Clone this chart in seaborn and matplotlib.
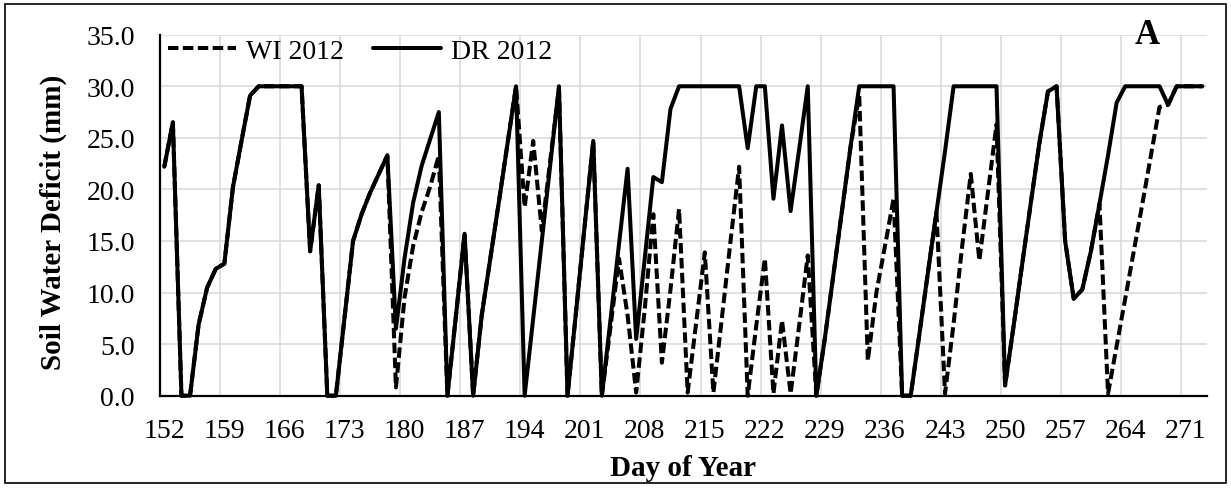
import numpy as np
import pandas as pd
import seaborn as sns
import matplotlib
matplotlib.use("Agg")
import matplotlib.pyplot as plt
from matplotlib.patches import Rectangle

# ---------------- data ----------------
days = list(range(152, 274))

dr_2012 = [
    22.2, 26.5, 0.0, 0.0, 6.9, 10.5, 12.3, 12.8, 20.2, 24.7,   # 152-161
    29.1, 30.0, 30.0, 30.0, 30.0, 30.0, 30.0, 14.0, 20.4, 0.0,  # 162-171
    0.0, 7.5, 15.0, 17.6, 19.7, 21.5, 23.3, 6.5, 13.3, 18.7,    # 172-181
    22.3, 24.9, 27.5, 0.0, 7.8, 15.7, 0.0, 7.8, 13.3, 18.8,     # 182-191
    24.4, 30.0, 0.0, 7.5, 15.0, 22.5, 30.0, 0.0, 8.2, 16.5,     # 192-201
    24.7, 0.0, 7.3, 14.7, 22.0, 5.5, 13.3, 21.2, 20.7, 27.8,    # 202-211
    30.0, 30.0, 30.0, 30.0, 30.0, 30.0, 30.0, 30.0, 24.0, 30.0, # 212-221
    30.0, 19.1, 26.2, 17.9, 23.9, 30.0, 0.0, 5.6, 11.8, 18.0,   # 222-231
    24.2, 30.0, 30.0, 30.0, 30.0, 30.0, 0.0, 0.0, 5.9, 11.9,    # 232-241
    17.8, 23.7, 30.0, 30.0, 30.0, 30.0, 30.0, 30.0, 1.0, 6.8,   # 242-251
    12.8, 18.7, 24.5, 29.5, 30.0, 15.0, 9.4, 10.3, 14.0, 18.6,  # 252-261
    23.3, 28.4, 30.0, 30.0, 30.0, 30.0, 30.0, 28.2, 30.0, 30.0, # 262-271
    30.0, 30.0,                                                 # 272-273
]

wi_2012 = [
    22.2, 26.5, 0.0, 0.0, 6.9, 10.5, 12.3, 12.8, 20.2, 24.7,   # 152-161
    29.1, 30.0, 30.0, 30.0, 30.0, 30.0, 30.0, 14.0, 20.4, 0.0,  # 162-171
    0.0, 7.5, 15.0, 17.6, 19.7, 21.5, 23.3, 0.8, 9.5, 14.5,     # 172-181
    17.8, 20.3, 23.3, 0.0, 7.8, 15.7, 0.0, 7.8, 13.3, 18.8,     # 182-191
    24.4, 30.0, 18.3, 24.7, 16.0, 22.9, 29.8, 0.0, 8.2, 16.5,   # 192-201
    24.7, 0.0, 6.6, 13.3, 7.8, 0.3, 8.4, 17.6, 3.2, 10.3,       # 202-211
    18.1, 0.3, 7.1, 13.9, 0.3, 7.6, 15.0, 22.2, 0.0, 6.8,       # 212-221
    13.3, 0.2, 7.3, 0.2, 6.8, 13.6, 0.0, 5.6, 11.8, 18.0,       # 222-231
    24.2, 29.1, 3.4, 10.0, 14.5, 19.1, 0.0, 0.0, 5.9, 11.9,     # 232-241
    17.8, 0.2, 7.0, 14.5, 21.5, 13.1, 19.7, 26.3, 1.0, 6.8,     # 242-251
    12.8, 18.7, 24.5, 29.5, 30.0, 15.0, 9.4, 10.3, 14.0, 18.6,  # 252-261
    0.2, 4.8, 9.4, 14.0, 18.6, 23.3, 28.0, 28.2, 30.0, 30.0,    # 262-271
    30.0, 30.0,                                                 # 272-273
]

series_names = ["WI 2012", "DR 2012"]
tick_days = list(range(152, 272, 7))
y_ticks = [0, 5, 10, 15, 20, 25, 30, 35]

# ---------------- style ----------------
sns.set_theme(style="white")
plt.rcParams["font.family"] = ["Liberation Serif", "DejaVu Serif"]
plt.rcParams["text.color"] = "black"
plt.rcParams["axes.labelcolor"] = "black"
plt.rcParams["xtick.color"] = "black"
plt.rcParams["ytick.color"] = "black"

W, H = 1231, 489
fig = plt.figure(figsize=(W / 100, H / 100), dpi=100)
ax = fig.add_axes([160 / W, 1 - 396.7 / H, (1206.7 - 160) / W, (396.7 - 35.7) / H])

df_wi = pd.DataFrame({"day": days, "value": wi_2012})
df_dr = pd.DataFrame({"day": days, "value": dr_2012})

lw = 2.9
sns.lineplot(data=df_wi, x="day", y="value", ax=ax, color="black", lw=lw,
             label=series_names[0], clip_on=False, zorder=3)
ax.lines[-1].set_dashes((2.6, 1.1))
ax.lines[-1].set_dash_capstyle("butt")
sns.lineplot(data=df_dr, x="day", y="value", ax=ax, color="black", lw=lw,
             label=series_names[1], clip_on=False, zorder=4)

ax.set_xlim(151.5, 273.5)
ax.set_ylim(0, 35)

# grid
ax.set_xticks(tick_days)
ax.set_xticklabels([str(d) for d in tick_days])
ax.set_xticks([d - 0.5 for d in tick_days], minor=True)
ax.set_yticks(y_ticks)
ax.set_yticklabels([f"{v:.1f}" for v in y_ticks])
ax.grid(False)
ax.grid(which="minor", axis="x", color="#d9d9d9", lw=1.1, zorder=0)
ax.grid(which="major", axis="y", color="#d9d9d9", lw=1.1, zorder=0)
ax.tick_params(axis="x", which="both", length=0, pad=16, labelsize=20, colors="black")
ax.tick_params(axis="y", which="both", length=0, pad=18, labelsize=20, colors="black")

for s in ["top", "right"]:
    ax.spines[s].set_visible(False)
for s in ["left", "bottom"]:
    ax.spines[s].set_color("black")
    ax.spines[s].set_linewidth(1.6)
    ax.spines[s].set_zorder(5)

ax.set_xlabel("Day of Year", fontsize=21, fontweight="bold", va="center")
ax.xaxis.set_label_coords(0.4997, (396.7 - 469) / 361.0)
ax.set_ylabel("Soil Water Deficit (mm)", fontsize=21, fontweight="bold", va="center")
ax.yaxis.set_label_coords((53 - 160) / 1046.7, (396.7 - 222.5) / 361.0)

leg = ax.legend(loc="center left", bbox_to_anchor=(168 / W, 1 - 52 / H),
                bbox_transform=fig.transFigure, ncol=2, frameon=False,
                fontsize=20, handlelength=2.46, handletextpad=0.36,
                columnspacing=1.04, borderpad=0, borderaxespad=0)

fig.text(1147 / W, 1 - 35 / H, "A", ha="center", va="center",
         fontsize=25, fontweight="bold")

fig.patches.append(Rectangle((5 / W, 5 / H), (1226 - 5) / W, (484 - 5) / H,
                             transform=fig.transFigure, fill=False,
                             edgecolor="black", lw=1.2))

fig.savefig("out.png", dpi=100)
